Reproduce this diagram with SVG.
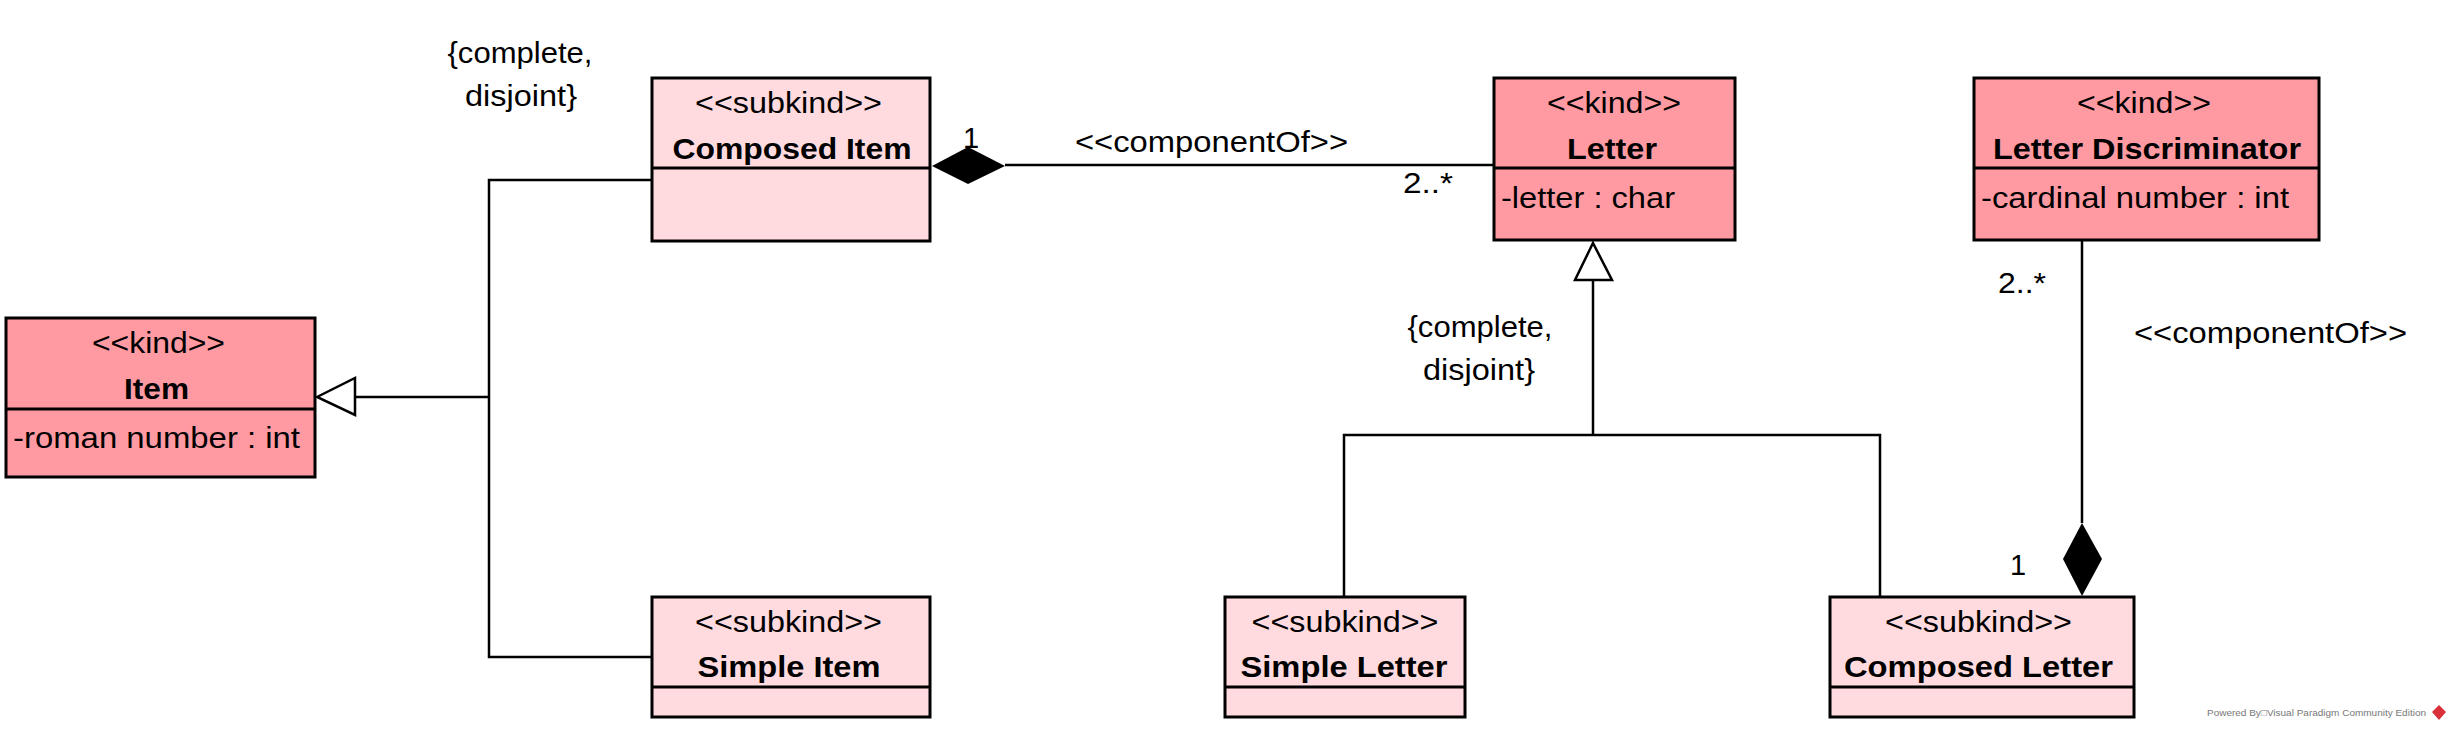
<svg xmlns="http://www.w3.org/2000/svg" width="2451" height="729" viewBox="0 0 2451 729">
<style>
.kind{fill:#FF9AA2;stroke:#000;stroke-width:3}
.sub{fill:#FFDBDF;stroke:#000;stroke-width:3}
.div{stroke:#000;stroke-width:3}
text{font-family:"Liberation Sans",Arial,sans-serif;font-size:29px;fill:#000}
.b{font-weight:bold;font-size:30px}
.c{text-anchor:middle}
.ln{fill:none;stroke:#000;stroke-width:2.5}
.wm{font-size:9px;fill:#777}
</style>
<rect width="2451" height="729" fill="#fff"/>
<g id="connectors">
  <!-- Item generalization -->
  <polyline class="ln" points="651,180 489,180 489,657 651,657"/>
  <line class="ln" x1="489" y1="397" x2="355" y2="397"/>
  <polygon points="317,397 355,378 355,415" fill="#fff" stroke="#000" stroke-width="2.5"/>
  <!-- Composed Item - Letter composition -->
  <line class="ln" x1="1005" y1="165" x2="1494" y2="165"/>
  <polygon points="932,166 968,147 1005,166 968,184" fill="#000"/>
  <!-- Letter generalization -->
  <polyline class="ln" points="1344,597 1344,435 1880,435 1880,597"/>
  <line class="ln" x1="1593" y1="435" x2="1593" y2="280"/>
  <polygon points="1593,243 1612,280 1575,280" fill="#fff" stroke="#000" stroke-width="2.5"/>
  <!-- Letter Discriminator - Composed Letter composition -->
  <line class="ln" x1="2082" y1="241" x2="2082" y2="523"/>
  <polygon points="2082,523 2102,559 2082,596 2063,559" fill="#000"/>
  <!-- labels -->
  <text class="c" x="520" y="63" textLength="145" lengthAdjust="spacingAndGlyphs">{complete,</text>
  <text class="c" x="521" y="106" textLength="112" lengthAdjust="spacingAndGlyphs">disjoint}</text>
  <text x="1480" y="337" class="c" textLength="145" lengthAdjust="spacingAndGlyphs">{complete,</text>
  <text x="1479" y="380" class="c" textLength="112" lengthAdjust="spacingAndGlyphs">disjoint}</text>
  <text x="963" y="148">1</text>
  <text x="1075" y="152" textLength="273" lengthAdjust="spacingAndGlyphs">&lt;&lt;componentOf&gt;&gt;</text>
  <text x="1403" y="193" textLength="50" lengthAdjust="spacingAndGlyphs">2..*</text>
  <text x="1998" y="293" textLength="48" lengthAdjust="spacingAndGlyphs">2..*</text>
  <text x="2134" y="343" textLength="273" lengthAdjust="spacingAndGlyphs">&lt;&lt;componentOf&gt;&gt;</text>
  <text x="2010" y="575">1</text>
</g>
<g id="item">
  <rect class="kind" x="6" y="318" width="309" height="159"/>
  <line class="div" x1="6" y1="409" x2="315" y2="409"/>
  <text class="c" x="158.5" y="353" textLength="133" lengthAdjust="spacingAndGlyphs">&lt;&lt;kind&gt;&gt;</text>
  <text class="c b" x="156.5" y="399" textLength="65" lengthAdjust="spacingAndGlyphs">Item</text>
  <text x="13" y="448" textLength="287" lengthAdjust="spacingAndGlyphs">-roman number : int</text>
</g>
<g id="composed-item">
  <rect class="sub" x="652" y="78" width="278" height="163"/>
  <line class="div" x1="652" y1="168" x2="930" y2="168"/>
  <text class="c" x="788.5" y="113" textLength="187" lengthAdjust="spacingAndGlyphs">&lt;&lt;subkind&gt;&gt;</text>
  <text class="c b" x="792" y="159" textLength="239" lengthAdjust="spacingAndGlyphs">Composed Item</text>
</g>
<g id="simple-item">
  <rect class="sub" x="652" y="597" width="278" height="120"/>
  <line class="div" x1="652" y1="687" x2="930" y2="687"/>
  <text class="c" x="788.5" y="632" textLength="187" lengthAdjust="spacingAndGlyphs">&lt;&lt;subkind&gt;&gt;</text>
  <text class="c b" x="789" y="677" textLength="183" lengthAdjust="spacingAndGlyphs">Simple Item</text>
</g>
<g id="letter">
  <rect class="kind" x="1494" y="78" width="241" height="162"/>
  <line class="div" x1="1494" y1="168" x2="1735" y2="168"/>
  <text class="c" x="1614" y="113" textLength="134" lengthAdjust="spacingAndGlyphs">&lt;&lt;kind&gt;&gt;</text>
  <text class="c b" x="1612" y="159" textLength="90" lengthAdjust="spacingAndGlyphs">Letter</text>
  <text x="1501" y="208" textLength="174" lengthAdjust="spacingAndGlyphs">-letter : char</text>
</g>
<g id="letter-discriminator">
  <rect class="kind" x="1974" y="78" width="345" height="162"/>
  <line class="div" x1="1974" y1="168" x2="2319" y2="168"/>
  <text class="c" x="2144" y="113" textLength="134" lengthAdjust="spacingAndGlyphs">&lt;&lt;kind&gt;&gt;</text>
  <text class="c b" x="2147" y="159" textLength="308" lengthAdjust="spacingAndGlyphs">Letter Discriminator</text>
  <text x="1981" y="208" textLength="308" lengthAdjust="spacingAndGlyphs">-cardinal number : int</text>
</g>
<g id="simple-letter">
  <rect class="sub" x="1225" y="597" width="240" height="120"/>
  <line class="div" x1="1225" y1="687" x2="1465" y2="687"/>
  <text class="c" x="1345" y="632" textLength="187" lengthAdjust="spacingAndGlyphs">&lt;&lt;subkind&gt;&gt;</text>
  <text class="c b" x="1344" y="677" textLength="207" lengthAdjust="spacingAndGlyphs">Simple Letter</text>
</g>
<g id="composed-letter">
  <rect class="sub" x="1830" y="597" width="304" height="120"/>
  <line class="div" x1="1830" y1="687" x2="2134" y2="687"/>
  <text class="c" x="1978.5" y="632" textLength="187" lengthAdjust="spacingAndGlyphs">&lt;&lt;subkind&gt;&gt;</text>
  <text class="c b" x="1978.5" y="677" textLength="269" lengthAdjust="spacingAndGlyphs">Composed Letter</text>
</g>
<g id="watermark">
  <text class="wm" x="2207" y="716" textLength="219" lengthAdjust="spacingAndGlyphs">Powered By□Visual Paradigm Community Edition</text>
  <polygon points="2439,705 2446,712 2439,720 2432,712" fill="#D9303A"/>
</g>
</svg>
